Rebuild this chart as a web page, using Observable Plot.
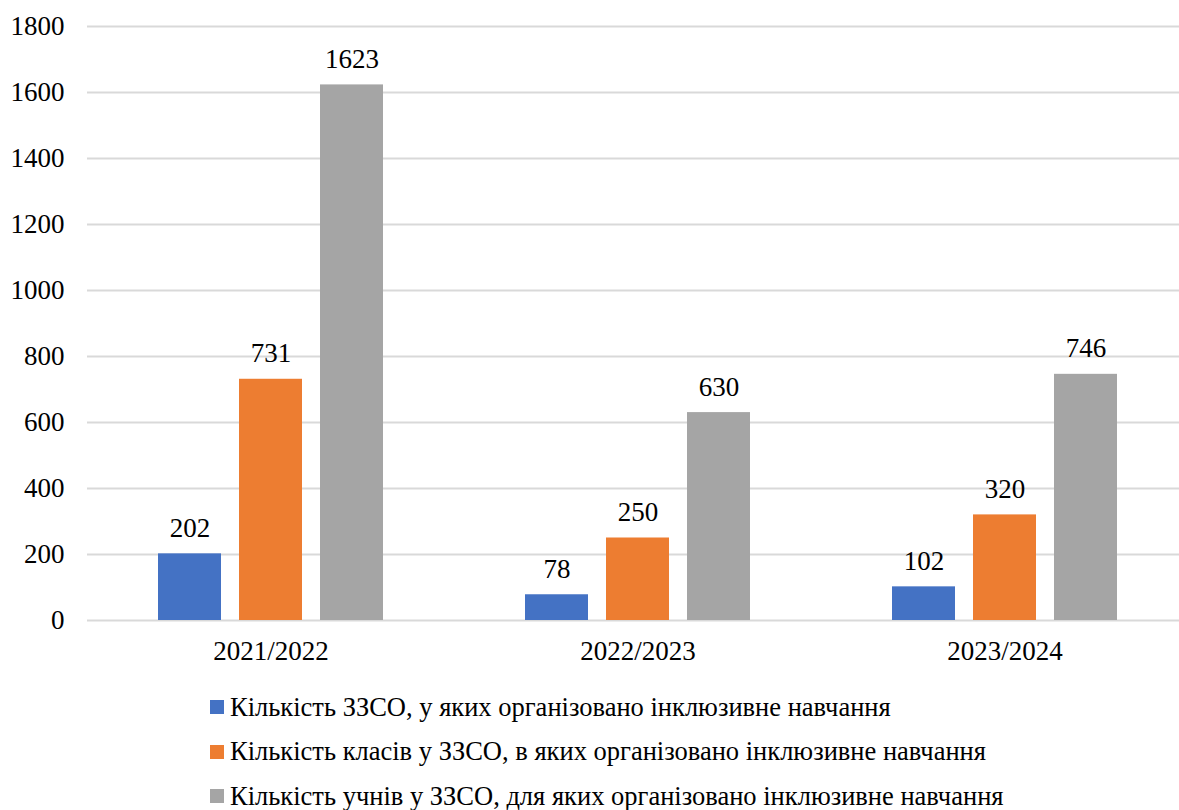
<!DOCTYPE html>
<html>
<head>
<meta charset="utf-8">
<script src="https://cdn.jsdelivr.net/npm/d3@7"></script>
<script src="https://cdn.jsdelivr.net/npm/@observablehq/plot@0.6"></script>
<style>
  html, body { margin: 0; padding: 0; background: #fff; overflow: hidden; width: 1179px; height: 810px; }
  #chart { position: absolute; left: 0; top: 0; width: 1188px; }
  #chart svg { max-width: none !important; }
  #legend { position: absolute; left: 210px; top: 685px; font-family: "Liberation Serif", "Tinos", serif; font-size: 26.5px; color: #000; }
  .row { display: flex; align-items: center; height: 44.5px; white-space: nowrap; }
  .sw { width: 14px; height: 14px; margin-right: 6px; flex: none; }
</style>
</head>
<body>
<div id="chart"></div>
<div id="legend"></div>
<script>
const years = ["2021/2022", "2022/2023", "2023/2024"];
const seriesNames = [
  "Кількість ЗЗСО, у яких організовано інклюзивне навчання",
  "Кількість класів у ЗЗСО, в яких організовано інклюзивне навчання",
  "Кількість учнів у ЗЗСО, для яких організовано інклюзивне навчання"
];
const schools = [202, 78, 102];
const classes = [731, 250, 320];
const students = [1623, 630, 746];
const colors = ["#4472C4", "#ED7D31", "#A5A5A5"];
const yTicks = [0, 200, 400, 600, 800, 1000, 1200, 1400, 1600, 1800];

const seriesValues = [schools, classes, students];
const data = years.flatMap((year, i) =>
  seriesNames.map((s, j) => ({ year, series: s, value: seriesValues[j][i] }))
);

const font = "'Liberation Serif', 'Tinos', serif";
const chart = Plot.plot({
  width: 1188,
  height: 680,
  marginLeft: 86,
  marginRight: 0,
  marginTop: 26,
  marginBottom: 60,
  style: { fontFamily: font, fontSize: "27px", color: "#000", background: "#fff" },
  fx: { domain: years, padding: 0, label: null },
  x: { domain: seriesNames, paddingInner: 0.227, paddingOuter: 0.865, axis: null },
  y: { domain: [0, 1800], label: null },
  color: { domain: seriesNames, range: colors },
  marks: [
    Plot.gridY(yTicks, { stroke: "#d9d9d9", strokeOpacity: 1, strokeWidth: 2 }),
    Plot.axisY(yTicks, { tickSize: 0, tickPadding: 23, label: null, fontSize: 27, tickFormat: d => String(d) }),
    Plot.axisFx({ anchor: "bottom", tickSize: 0, tickPadding: 20, label: null, fontSize: 27 }),
    Plot.barY(data, { fx: "year", x: "series", y: "value", fill: "series" }),
    Plot.text(data, { fx: "year", x: "series", y: "value", text: d => String(d.value), lineAnchor: "bottom", dy: -17, fontSize: 27, fill: "#000" })
  ]
});
chart.style.maxWidth = "none";
chart.style.fontFamily = font;
document.getElementById("chart").appendChild(chart);

const legend = document.getElementById("legend");
seriesNames.forEach((s, i) => {
  const row = document.createElement("div");
  row.className = "row";
  const sw = document.createElement("span");
  sw.className = "sw";
  sw.style.background = colors[i];
  const t = document.createElement("span");
  t.textContent = s;
  row.appendChild(sw);
  row.appendChild(t);
  legend.appendChild(row);
});
</script>
</body>
</html>
